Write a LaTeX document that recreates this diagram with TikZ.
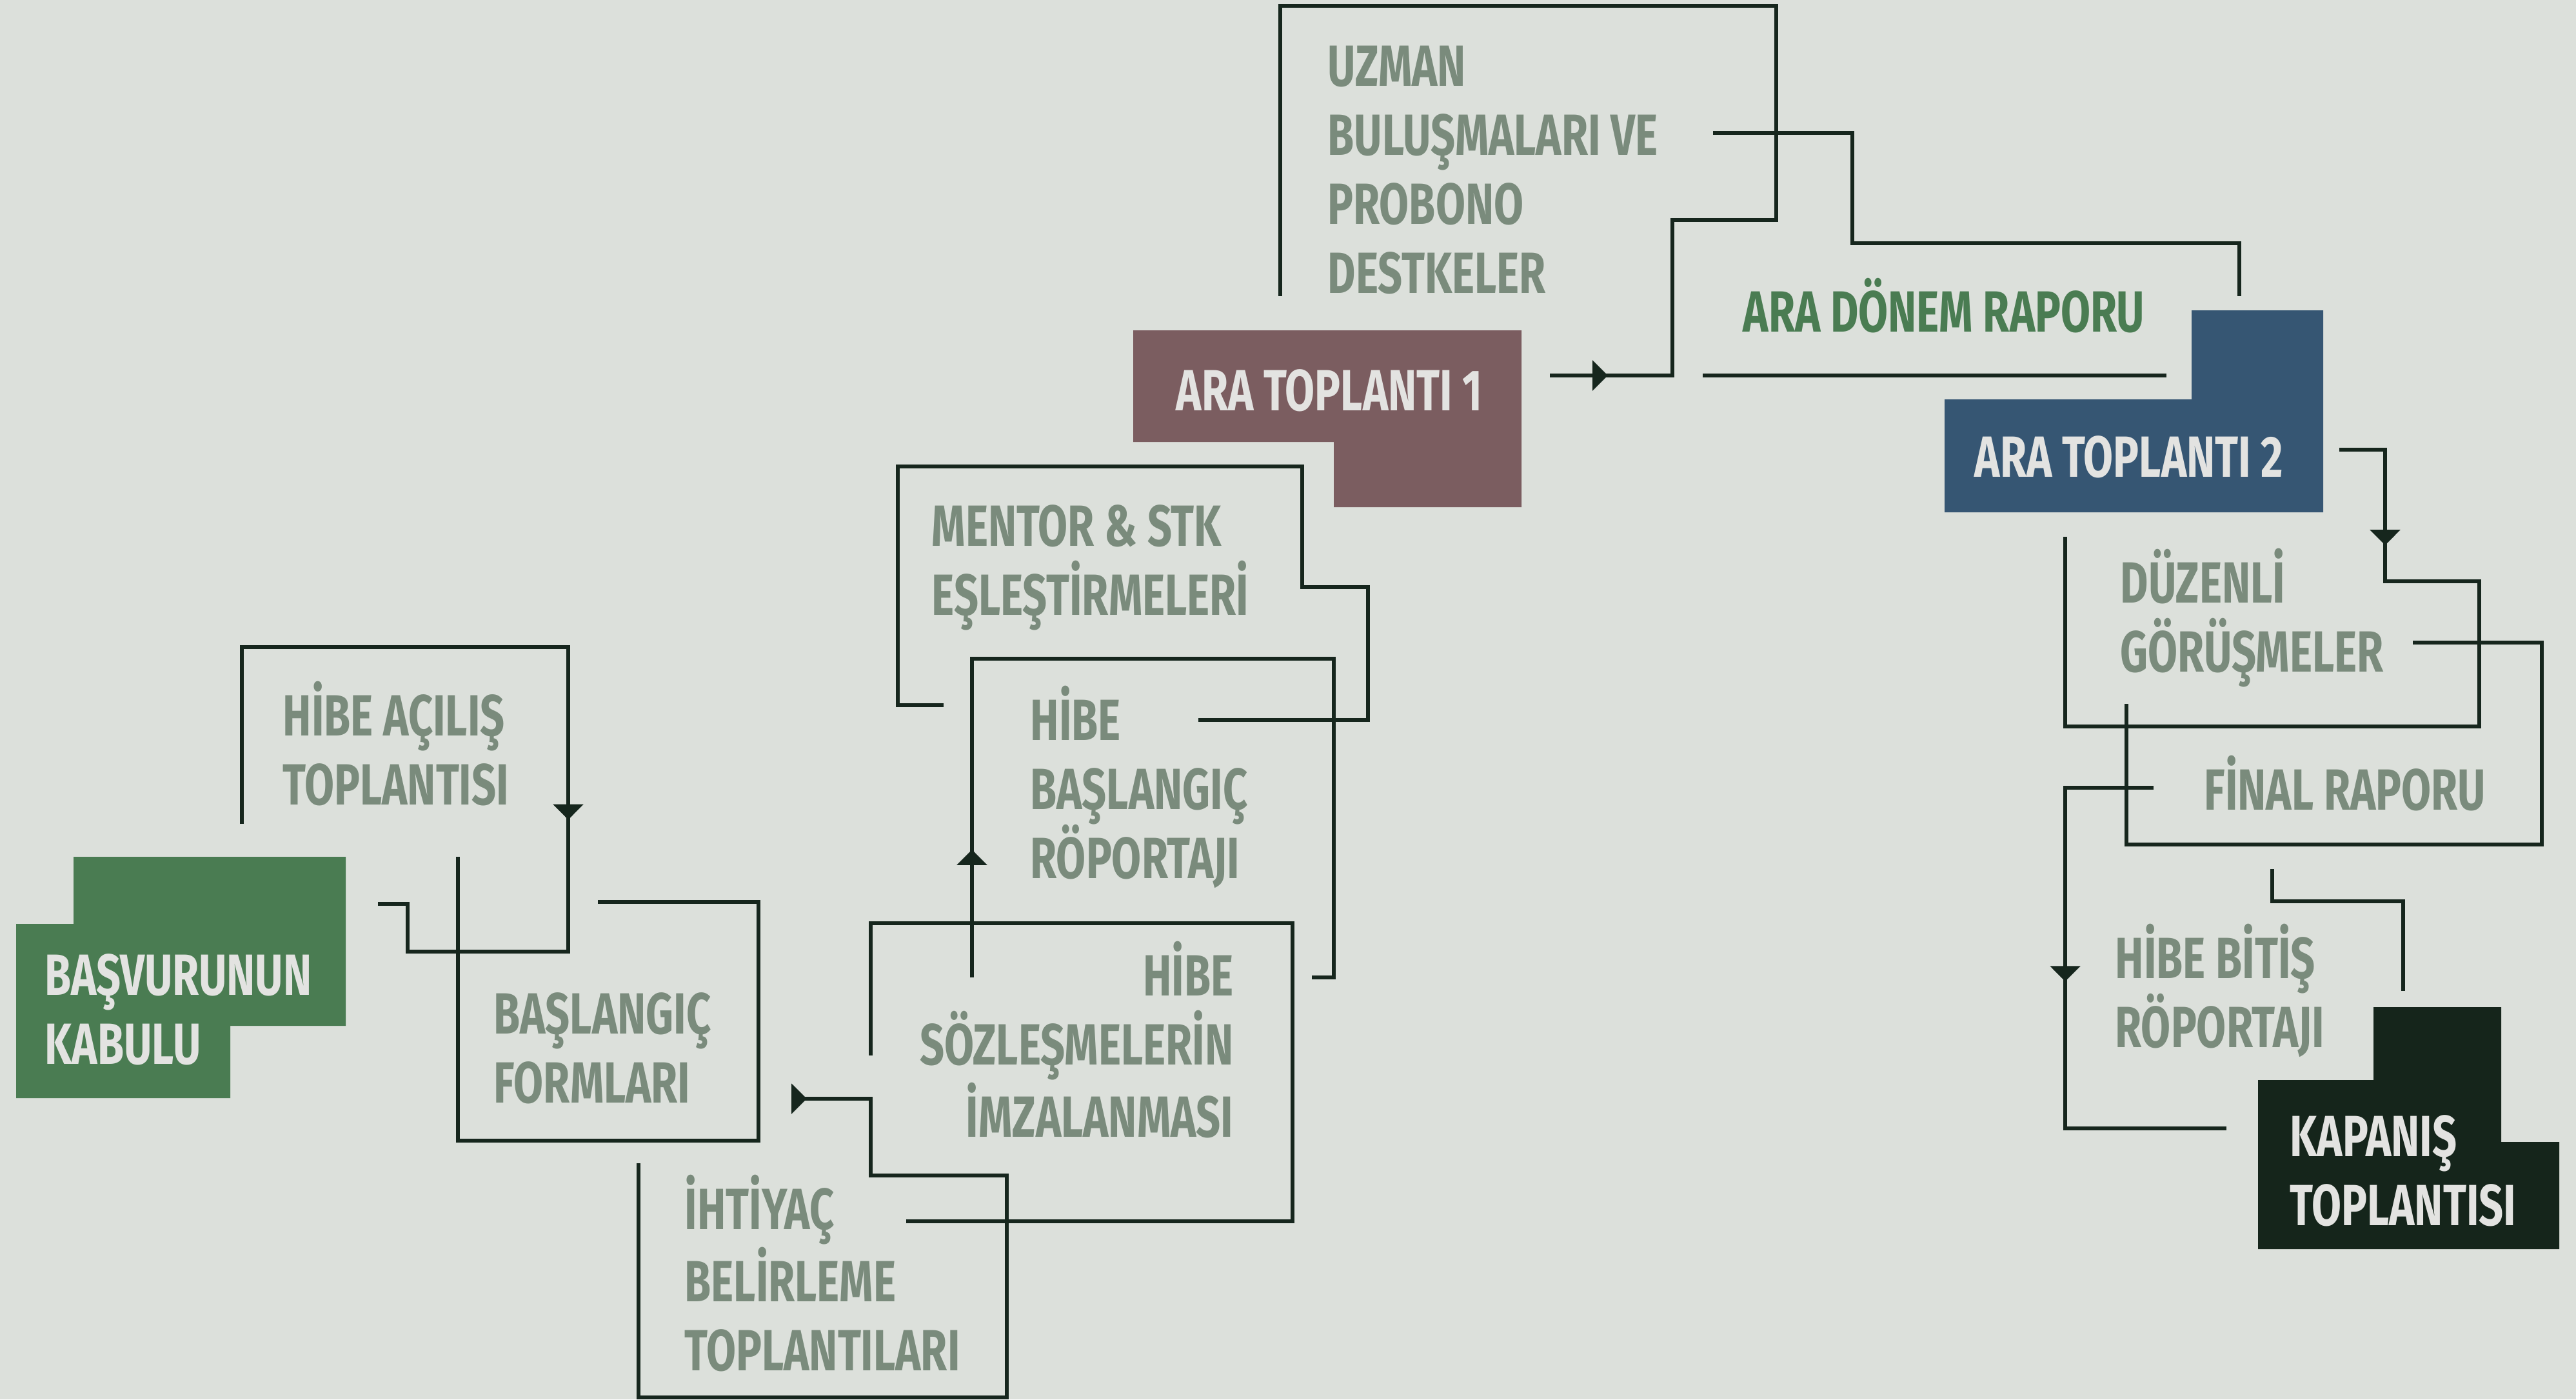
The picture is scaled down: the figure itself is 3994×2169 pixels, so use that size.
\documentclass[tikz,border=0pt]{standalone}
\usepackage{fontspec}
\setmainfont{Fira Sans}[FakeStretch=0.74]
\usetikzlibrary{arrows.meta}
\usetikzlibrary{decorations.markings}
\definecolor{bgc}{HTML}{DCE0DB}
\definecolor{linec}{HTML}{16261D}
\definecolor{txtgray}{HTML}{7A8B7C}
\definecolor{boxgreen}{HTML}{4A7C52}
\definecolor{boxbrown}{HTML}{7B5D60}
\definecolor{boxblue}{HTML}{365673}
\definecolor{boxdark}{HTML}{15251B}
\definecolor{txtlight}{HTML}{E3E3E1}
\tikzset{lbl/.style={anchor=base west, align=left, inner sep=0pt, text=txtgray, font=\fontsize{25.6}{30.4}\selectfont\bfseries}}
\tikzset{frame/.style={draw=linec, line width=1.8pt}}
\tikzset{
		% style to put an arrow head at a given distance along a path
		tip at/.style={postaction={decorate,decoration={
					markings,
					mark=at position #1 with {\arrow{Triangle[width=4.6mm,length=2.4mm]}}
		}}},
	}

\begin{document}
\begin{tikzpicture}[x=0.01cm, y=-0.01cm]
		\fill[bgc] (0,0) rectangle (3994,2169);
		\useasboundingbox (0,0) rectangle (3994,2169);
		
		% coloured blocks
		\fill[boxgreen] (114,1328) -- (536,1328) -- (536,1590) -- (357,1590) -- (357,1702) -- (25,1702) -- (25,1432) -- (114,1432) -- cycle;
		\fill[boxbrown] (1757,512) -- (2359,512) -- (2359,786) -- (2068,786) -- (2068,685) -- (1757,685) -- cycle;
		\fill[boxblue] (3398,481) -- (3602,481) -- (3602,794) -- (3015,794) -- (3015,619) -- (3398,619) -- cycle;
		\fill[boxdark] (3680,1561) -- (3878,1561) -- (3878,1770) -- (3968,1770) -- (3968,1936) -- (3501,1936) -- (3501,1674) -- (3680,1674) -- cycle;
		
		% labels, placed at the baseline of their last line
		\node[lbl, text=txtlight] (kabul) at (69,1649) {BAŞVURUNUN\\KABULU};
		\node[lbl] (acilis) at (438,1247) {HİBE AÇILIŞ\\TOPLANTISI};
		\node[lbl] (formlar) at (765,1709) {BAŞLANGIÇ\\FORMLARI};
		\node[lbl] (ihtiyac) at (1061,2124) {İHTİYAÇ\\BELİRLEME\\TOPLANTILARI};
		\node[lbl, anchor=base east, align=right] (sozlesme) at (1913,1762) {HİBE\\SÖZLEŞMELERİN\\İMZALANMASI};
		\node[lbl] (roportaj) at (1597,1361) {HİBE\\BAŞLANGIÇ\\RÖPORTAJI};
		\node[lbl] (mentor) at (1444,953) {MENTOR \& STK\\EŞLEŞTİRMELERİ};
		\node[lbl, text=txtlight] (ara1) at (1823,636) {ARA TOPLANTI 1};
		\node[lbl] (uzman) at (2058,454) {UZMAN\\BULUŞMALARI VE\\PROBONO\\DESTKELER};
		\node[lbl, text=boxgreen] (rapor) at (2702,514) {ARA DÖNEM RAPORU};
		\node[lbl, text=txtlight] (ara2) at (3061,739) {ARA TOPLANTI 2};
		\node[lbl] (duzenli) at (3287,1041) {DÜZENLİ\\GÖRÜŞMELER};
		\node[lbl] (final) at (3417,1255) {FİNAL RAPORU};
		\node[lbl] (bitis) at (3279,1623) {HİBE BİTİŞ\\RÖPORTAJI};
		\node[lbl, text=txtlight] (kapanis) at (3550,1899) {KAPANIŞ\\TOPLANTISI};
		
		% open frames
		\draw[frame, tip at=10.47cm] (375,1277) -- (375,1003) -- (881,1003) -- (881,1475) -- (632,1475) -- (632,1401) -- (586,1401);
		\draw[frame] (927,1398) -- (1176,1398) -- (1176,1768) -- (710,1768) -- (710,1328);
		\draw[frame, tip at=0.22cm] (1229,1703) -- (1350,1703) -- (1350,1822) -- (1561,1822) -- (1561,2166) -- (990,2166) -- (990,1803);
		\draw[frame] (1405,1893) -- (2004,1893) -- (2004,1431) -- (1350,1431) -- (1350,1636);
		\draw[frame, tip at=1.98cm] (1507,1515) -- (1507,1021) -- (2068,1021) -- (2068,1515) -- (2034,1515);
		\draw[frame] (1463,1093) -- (1392,1093) -- (1392,723) -- (2019,723) -- (2019,910) -- (2121,910) -- (2121,1116) -- (1858,1116);
		\draw[frame, tip at=0.9cm] (2403,582) -- (2593,582) -- (2593,341) -- (2754,341) -- (2754,9) -- (1985,9) -- (1985,459);
		\draw[frame] (2656,206) -- (2872,206) -- (2872,377) -- (3472,377) -- (3472,459);
		\draw[frame] (2640,582) -- (3359,582);
		\draw[frame, tip at=2.19cm] (3627,697) -- (3698,697) -- (3698,901) -- (3844,901) -- (3844,1126) -- (3202,1126) -- (3202,832);
		\draw[frame] (3741,996) -- (3941,996) -- (3941,1309) -- (3297,1309) -- (3297,1091);
		\draw[frame, tip at=4.37cm] (3339,1221) -- (3202,1221) -- (3202,1749) -- (3452,1749);
		\draw[frame] (3523,1347) -- (3523,1397) -- (3726,1397) -- (3726,1536);
		
\end{tikzpicture}
\end{document}
